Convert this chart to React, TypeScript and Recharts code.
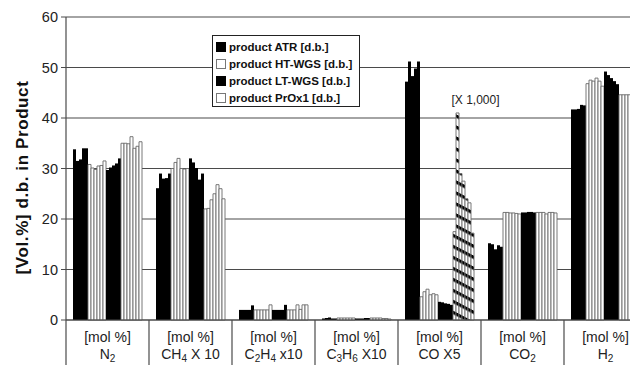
import {
  Bar,
  BarChart,
  CartesianGrid,
  Cell,
  Label,
  ReferenceDot,
  XAxis,
  YAxis,
} from "recharts";

// category labels, "_n" marks a subscript digit
const categoryLabels = ["N_2", "CH_4 X 10", "C_2H_4 x10", "C_3H_6 X10", "CO X5", "CO_2", "H_2"];
const unitLabel = "[mol %]";
const yTicks = [0, 10, 20, 30, 40, 50, 60];

// one inner list per category, one value per sample
const atr = [
  [33.8, 31.5, 31.8, 34.0, 34.0],
  [26.1, 29.0, 28.0, 28.1, 29.0],
  [2.0, 2.0, 2.0, 2.0, 2.9],
  [0.3, 0.4, 0.5, 0.3, 0.3],
  [47.2, 51.2, 48.3, 49.8, 51.2],
  [15.2, 15.0, 14.0, 14.8, 14.5],
  [41.7, 41.7, 41.8, 42.6, 42.5],
];
const htWgs = [
  [30.8, 30.1, 29.8, 30.5, 30.6, 31.5],
  [30.0, 31.2, 32.0, 30.0, 29.9, 30.0],
  [2.0, 2.0, 2.0, 2.0, 2.0, 3.0],
  [0.4, 0.4, 0.4, 0.4, 0.4, 0.4],
  [4.6, 5.6, 6.1, 5.0, 5.2, 5.0],
  [21.3, 21.3, 21.2, 21.2, 21.1, 21.0],
  [46.8, 47.5, 47.3, 47.9, 47.3, 46.3],
];
const ltWgs = [
  [29.7, 30.2, 30.6, 31.0, 32.0],
  [32.0, 31.2, 30.1, 27.8, 29.0],
  [2.0, 2.0, 2.0, 2.0, 3.0],
  [0.3, 0.3, 0.3, 0.4, 0.4],
  [3.6, 3.5, 3.3, 3.2, 3.0],
  [21.3, 21.3, 21.4, 21.4, 21.3],
  [49.2, 48.5, 47.9, 47.3, 46.7],
];
const prox = [
  [35.0, 35.0, 34.9, 36.3, 34.0, 34.4, 35.3],
  [22.0, 22.1, 23.8, 25.0, 26.8, 26.0, 24.0],
  [2.0, 2.0, 2.0, 3.0, 2.1, 3.0, 3.0],
  [0.4, 0.4, 0.4, 0.4, 0.3, 0.3, 0.2],
  [17.5, 41.0, 29.0, 27.5, 24.0, 23.2, 17.2],
  [21.3, 21.3, 21.3, 21.0, 21.3, 21.3, 21.2],
  [44.6, 44.6, 44.6, 44.6, 45.1, 44.8, 44.5],
];

const legendLabels = [
  "product ATR [d.b.]",
  "product HT-WGS [d.b.]",
  "product LT-WGS [d.b.]",
  "product PrOx1 [d.b.]",
];

const series = [
  { key: "atr", values: atr, filled: true },
  { key: "ht", values: htWgs, filled: false },
  { key: "lt", values: ltWgs, filled: true },
  { key: "prox", values: prox, filled: false },
];
const hatchedCategory = "CO X5";

const chartData = categoryLabels.map((cat, gi) => {
  const row: Record<string, string | number> = { cat };
  series.forEach((s) => s.values[gi].forEach((v, ri) => (row[`${s.key}${ri}`] = v)));
  return row;
});

const barDefs = series.flatMap((s) =>
  s.values[0].map((_, ri) => ({ dataKey: `${s.key}${ri}`, filled: s.filled, hatch: s.key === "prox" }))
);

const FONT = "'Liberation Sans', Arial, sans-serif";
const PLOT_W = 581;
const BAND = PLOT_W / categoryLabels.length;
const INK = "#222";
const LINE = "#4a4a4a";

function renderFormula(label: string) {
  const parts = label.split(/(_\d)/).filter((p) => p.length > 0);
  return parts.map((p, i) =>
    p.startsWith("_") ? (
      <tspan key={i} fontSize={10} dy={3}>
        {p.slice(1)}
      </tspan>
    ) : (
      <tspan key={i} dy={i > 0 && parts[i - 1].startsWith("_") ? -3 : 0}>
        {p}
      </tspan>
    )
  );
}

function CategoryTick(props: any) {
  const { x, y, payload } = props;
  const left = x - BAND / 2;
  return (
    <g>
      <line x1={left} y1={y} x2={left} y2={y + 50} stroke={LINE} strokeWidth={1.2} />
      <text x={x} y={y + 22} textAnchor="middle" fontSize={14} fill={INK}>
        {unitLabel}
      </text>
      <text x={x} y={y + 39} textAnchor="middle" fontSize={14} fill={INK}>
        {renderFormula(String(payload.value))}
      </text>
    </g>
  );
}

function YTitle(props: any) {
  const { viewBox } = props;
  const cx = 14;
  const cy = viewBox.y + viewBox.height / 2 + 9;
  return (
    <text
      x={cx}
      y={cy}
      transform={`rotate(-90, ${cx}, ${cy})`}
      textAnchor="middle"
      dominantBaseline="central"
      fontSize={17}
      letterSpacing={0.6}
      fontWeight="bold"
      fill="#111"
    >
      [Vol.%] d.b. in Product
    </text>
  );
}

function LegendBox() {
  return (
    <div
      style={{
        position: "absolute",
        left: 204,
        top: 27,
        width: 143,
        height: 68,
        border: "1px solid #222",
        background: "#fff",
        padding: "2px 0 0 3px",
        fontSize: 11.5,
        fontWeight: "bold",
        color: "#111",
        boxSizing: "content-box",
        whiteSpace: "nowrap",
      }}
    >
      {legendLabels.map((label, i) => (
        <div key={label} style={{ display: "flex", alignItems: "center", height: 17 }}>
          <span
            style={{
              width: 8,
              height: 8,
              marginRight: 3,
              flex: "none",
              background: i % 2 === 0 ? "#000" : "#fff",
              border: `1px solid ${i % 2 === 0 ? "#000" : "#777"}`,
            }}
          />
          <span>{label}</span>
        </div>
      ))}
    </div>
  );
}

export default function App() {
  return (
    <div style={{ position: "relative", width: 630, height: 357, overflow: "hidden", fontFamily: FONT }}>
      <svg width={0} height={0} style={{ position: "absolute" }}>
        <defs>
          <pattern
            id="hatch"
            patternUnits="userSpaceOnUse"
            width={10}
            height={11}
            patternTransform="skewY(28)"
          >
            <rect x={0} y={0} width={10} height={11} fill="#fff" />
            <rect x={0} y={0} width={10} height={3.5} fill="#000" />
          </pattern>
        </defs>
      </svg>
      <BarChart
        width={640}
        height={357}
        data={chartData}
        margin={{ top: 9, right: 1, bottom: 0, left: 0 }}
        barGap={0}
        barCategoryGap={7}
      >
        <CartesianGrid horizontal vertical={false} stroke={LINE} strokeWidth={1.2} />
        <XAxis
          dataKey="cat"
          interval={0}
          height={45}
          tickSize={0}
          tickMargin={0}
          tickLine={false}
          axisLine={{ stroke: LINE, strokeWidth: 1.2 }}
          tick={<CategoryTick />}
        />
        <YAxis
          width={58}
          domain={[0, 60]}
          ticks={yTicks}
          interval={0}
          tickSize={5}
          tickMargin={3}
          axisLine={{ stroke: LINE, strokeWidth: 1.2 }}
          tickLine={{ stroke: LINE }}
          tick={{ fontSize: 14.5, fill: INK }}
        >
          <Label content={<YTitle />} />
        </YAxis>
        {barDefs.map((b) => (
          <Bar
            key={b.dataKey}
            dataKey={b.dataKey}
            fill={b.filled ? "#000" : "#fff"}
            stroke={b.filled ? "none" : "#6a6a6a"}
            strokeWidth={0.9}
            isAnimationActive={false}
          >
            {chartData.map((row) => (
              <Cell
                key={String(row.cat)}
                fill={b.hatch && row.cat === hatchedCategory ? "url(#hatch)" : b.filled ? "#000" : "#fff"}
              />
            ))}
          </Bar>
        ))}
        <ReferenceDot
          x={hatchedCategory}
          y={43.6}
          r={1}
          fill="none"
          stroke="none"
          label={{ value: "[X 1,000]", position: "center", dx: 36, fontSize: 12, fill: INK }}
        />
      </BarChart>
      <LegendBox />
    </div>
  );
}
